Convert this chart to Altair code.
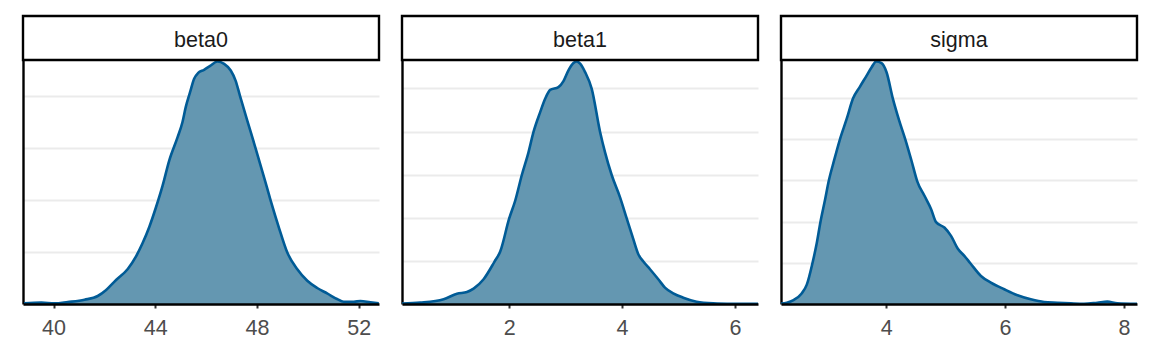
import altair as alt
import pandas as pd

# ---- data (posterior density curves) ----
params = ["beta0", "beta1", "sigma"]

beta0_x = [38.84, 39.52, 40.04, 40.56, 41.22, 41.74, 42.07, 42.46, 42.92, 43.24, 43.50, 43.77,
           44.03, 44.29, 44.55, 44.88, 45.07, 45.20, 45.37, 45.53, 45.69, 45.92, 46.16, 46.45,
           46.71, 46.97, 47.16, 47.33, 47.62, 47.95, 48.28, 48.54, 48.86, 49.19, 49.58, 49.98,
           50.37, 50.76, 51.15, 51.41, 51.81, 52.07, 52.46, 52.79]
beta0_density = [0.0006, 0.0013, 0.0006, 0.0019, 0.0041, 0.0077, 0.0135, 0.0231, 0.0337, 0.0456,
                 0.0584, 0.0744, 0.0931, 0.1139, 0.1380, 0.1605, 0.1749, 0.1894, 0.2038, 0.2167,
                 0.2224, 0.2253, 0.2292, 0.2333, 0.2311, 0.2247, 0.2150, 0.2006, 0.1765, 0.1496,
                 0.1219, 0.0995, 0.0738, 0.0497, 0.0337, 0.0224, 0.0154, 0.0102, 0.0048, 0.0022,
                 0.0022, 0.0029, 0.0016, 0.0006]

beta1_x = [0.09, 0.425, 0.838, 1.074, 1.251, 1.369, 1.546, 1.740, 1.841, 2.000, 2.106, 2.224,
           2.342, 2.431, 2.549, 2.637, 2.726, 2.873, 2.962, 3.050, 3.139, 3.198, 3.257, 3.345,
           3.463, 3.611, 3.699, 3.817, 3.965, 4.083, 4.200, 4.289, 4.378, 4.496, 4.643, 4.761,
           4.908, 5.085, 5.321, 5.616, 5.970, 6.413]
beta1_density = [0.0008, 0.0031, 0.0109, 0.0240, 0.0279, 0.0357, 0.0574, 0.0984, 0.1217, 0.1984,
                 0.2395, 0.2992, 0.3519, 0.3992, 0.4450, 0.4760, 0.4969, 0.5031, 0.5171, 0.5419,
                 0.5589, 0.5628, 0.5574, 0.5380, 0.4992, 0.3992, 0.3519, 0.2992, 0.2473, 0.1984,
                 0.1504, 0.1155, 0.0984, 0.0806, 0.0574, 0.0380, 0.0248, 0.0147, 0.0054, 0.0016,
                 0.0005, 0.0002]

sigma_x = [2.228, 2.328, 2.440, 2.574, 2.664, 2.759, 2.832, 2.893, 2.971, 3.033, 3.122, 3.218,
           3.335, 3.441, 3.559, 3.671, 3.755, 3.833, 3.922, 4.006, 4.112, 4.219, 4.325, 4.426,
           4.521, 4.644, 4.756, 4.839, 4.979, 5.091, 5.203, 5.315, 5.416, 5.594, 5.762, 5.986,
           6.210, 6.433, 6.657, 6.881, 7.105, 7.328, 7.552, 7.720, 7.888, 8.223]
sigma_density = [0.0008, 0.0032, 0.0095, 0.0250, 0.0470, 0.0990, 0.1480, 0.1987, 0.2530, 0.2985,
                 0.3480, 0.3982, 0.4493, 0.4988, 0.5280, 0.5547, 0.5750, 0.5888, 0.5848, 0.5628,
                 0.4988, 0.4453, 0.3982, 0.3479, 0.2985, 0.2628, 0.2303, 0.1987, 0.1857, 0.1655,
                 0.1346, 0.1168, 0.0989, 0.0681, 0.0519, 0.0357, 0.0211, 0.0114, 0.0049, 0.0032,
                 0.0016, 0.0005, 0.0032, 0.0057, 0.0016, 0.0003]

x_domains = {"beta0": [38.8, 52.8], "beta1": [0.1, 6.41], "sigma": [2.23, 8.22]}
x_ticks = {"beta0": [40, 44, 48, 52], "beta1": [2, 4, 6], "sigma": [4, 6, 8]}
y_tops = {"beta0": 0.2348, "beta1": 0.566, "sigma": 0.5925}
y_grid = {"beta0": [0.05, 0.1, 0.15, 0.2], "beta1": [0.1, 0.2, 0.3, 0.4, 0.5],
          "sigma": [0.1, 0.2, 0.3, 0.4, 0.5]}
series = {"beta0": (beta0_x, beta0_density), "beta1": (beta1_x, beta1_density),
          "sigma": (sigma_x, sigma_density)}

# ---- style ----
FONT = "Liberation Sans"
FILL = "#6497b1"
LINE = "#005b96"
W = 356
H = 244
STRIP_H = 44


def panel(name):
    xs, ds = series[name]
    df = pd.DataFrame({"value": xs, "density": ds})
    base = alt.Chart(df).encode(
        x=alt.X("value:Q",
                scale=alt.Scale(domain=x_domains[name], nice=False, zero=False),
                axis=alt.Axis(values=x_ticks[name], title=None, grid=False,
                              domainColor="black", domainWidth=2.4,
                              tickColor="#333333", tickWidth=2, tickSize=4,
                              labelFont=FONT, labelFontSize=21.5, labelColor="#4d4d4d",
                              labelPadding=9, zindex=1)),
        y=alt.Y("density:Q",
                scale=alt.Scale(domain=[0, y_tops[name]], nice=False),
                axis=alt.Axis(values=y_grid[name], title=None, labels=False, ticks=False,
                              grid=True, gridColor="#ebebeb", gridWidth=2,
                              domainColor="black", domainWidth=2.4)),
    )
    area = base.mark_area(color=FILL, interpolate="monotone", clip=True)
    line = base.mark_line(color=LINE, strokeWidth=2.6, interpolate="monotone", clip=True)

    lab = pd.DataFrame({"label": [name]})
    box = alt.Chart(lab).mark_rect(fill="white", stroke="black", strokeWidth=2.4).encode(
        x=alt.value(0), x2=alt.value(W), y=alt.value(-STRIP_H), y2=alt.value(0))
    txt = alt.Chart(lab).mark_text(font=FONT, fontSize=21.5, color="#1a1a1a",
                                   baseline="alphabetic", align="center").encode(
        x=alt.value(W / 2), y=alt.value(-13.5), text="label:N")
    return alt.layer(area, line, box, txt).properties(width=W, height=H)


chart = alt.hconcat(*[panel(p) for p in params], spacing=23, bounds="flush").properties(
    padding={"left": 21, "top": 14, "right": 5, "bottom": 5},
    background="white",
).configure_view(stroke=None)

chart.save("out.html", embed_options={"renderer": "svg", "actions": False})
